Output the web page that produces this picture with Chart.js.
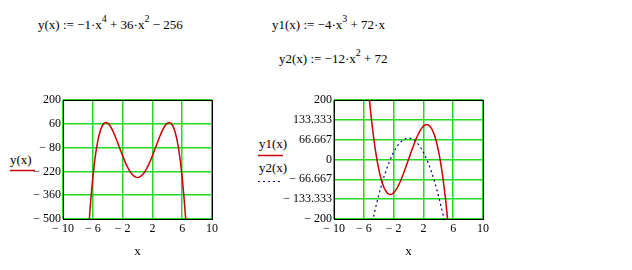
<!DOCTYPE html>
<html><head><meta charset="utf-8">
<script src="https://cdn.jsdelivr.net/npm/chart.js@4/dist/chart.umd.min.js"></script>
<style>
html,body{margin:0;padding:0;background:#fff;width:632px;height:270px;overflow:hidden}
canvas.c{position:absolute;left:0;top:0}
.t{position:absolute;font-family:"Liberation Serif","Times New Roman",serif;font-size:13px;line-height:15px;white-space:pre;color:#000}
.t sup{font-size:10px;vertical-align:7px;line-height:0}
svg{position:absolute}
</style></head><body>
<div class="t" style="left:38px;top:17px">y(x) := −1·x<sup>4</sup> + 36·x<sup>2</sup> − 256</div>
<div class="t" style="left:272px;top:17px">y1(x) := −4·x<sup>3</sup> + 72·x</div>
<div class="t" style="left:279px;top:51px">y2(x) := −12·x<sup>2</sup> + 72</div>
<div class="t" style="left:10px;top:152px">y(x)</div>
<div class="t" style="left:259px;top:136px">y1(x)</div>
<div class="t" style="left:259px;top:160px">y2(x)</div>
<svg style="left:0;top:0" width="632" height="270">
  <line x1="10" y1="170.5" x2="35" y2="170.5" stroke="#cc0000" stroke-width="1.5"/>
  <line x1="258" y1="155.5" x2="283" y2="155.5" stroke="#cc0000" stroke-width="1.5"/>
  <line x1="258" y1="181.5" x2="283" y2="181.5" stroke="#000080" stroke-width="1.2" stroke-dasharray="2,3"/>
</svg>
<canvas id="cL" class="c" width="632" height="270"></canvas>
<canvas id="cR" class="c" width="632" height="270"></canvas>
<script>
// ---- data ----
const xTicks = [-10, -6, -2, 2, 6, 10];
const xTickLabels = ['− 10', '− 6', '− 2', '2', '6', '10'];
const yTicksL = [-500, -360, -220, -80, 60, 200];
const yTickLabelsL = ['− 500', '− 360', '− 220', '− 80', '60', '200'];
const yTicksR = [-200, -133.333, -66.667, 0, 66.667, 133.333, 200];
const yTickLabelsR = ['− 200', '− 133.333', '− 66.667', '0', '66.667', '133.333', '200'];

const xsL = [-6.75,-6.5,-6.25,-6,-5.75,-5.5,-5.25,-5,-4.75,-4.5,-4.25,-4,-3.75,-3.5,-3.25,-3,-2.75,-2.5,-2.25,-2,-1.75,-1.5,-1.25,-1,-0.75,-0.5,-0.25,0,
  0.25,0.5,0.75,1,1.25,1.5,1.75,2,2.25,2.5,2.75,3,3.25,3.5,3.75,4,4.25,4.5,4.75,5,5.25,5.5,5.75,6,6.25,6.5,6.75];
const yVals = [-691.7,-520.1,-375.6,-256,-158.9,-82.1,-23.4,19,47.2,62.9,68.0,64,52.5,34.9,12.7,-13,-40.9,-70.1,-99.4,-128,-155.1,-180.1,-202.2,-221,-236.1,-247.1,-253.8,-256,
  -253.8,-247.1,-236.1,-221,-202.2,-180.1,-155.1,-128,-99.4,-70.1,-40.9,-13,12.7,34.9,52.5,64,68.0,62.9,47.2,19,-23.4,-82.1,-158.9,-256,-375.6,-520.1,-691.7];

const xsR = [-5.5,-5.25,-5,-4.75,-4.5,-4.25,-4,-3.75,-3.5,-3.25,-3,-2.75,-2.5,-2.25,-2,-1.75,-1.5,-1.25,-1,-0.75,-0.5,-0.25,0,
  0.25,0.5,0.75,1,1.25,1.5,1.75,2,2.25,2.5,2.75,3,3.25,3.5,3.75,4,4.25,4.5,4.75,5,5.25,5.5];
const y1Vals = [269.5,200.8,140,86.7,40.5,1.1,-32,-59.1,-80.5,-96.7,-108,-114.8,-117.5,-116.4,-112,-104.6,-94.5,-82.2,-68,-52.3,-35.5,-17.9,0,
  17.9,35.5,52.3,68,82.2,94.5,104.6,112,116.4,117.5,114.8,108,96.7,80.5,59.1,32,-1.1,-40.5,-86.7,-140,-200.8,-269.5];
const y2Vals = [-291,-258.8,-228,-198.8,-171,-144.8,-120,-96.8,-75,-54.8,-36,-18.8,-3,11.3,24,35.3,45,53.3,60,65.3,69,71.3,72,
  71.3,69,65.3,60,53.3,45,35.3,24,11.3,-3,-18.8,-36,-54.8,-75,-96.8,-120,-144.8,-171,-198.8,-228,-258.8,-291];

// ---- styles ----
const GREEN = '#22d822';
const RED = '#cc0000';
const NAVY = '#000080';
const tickFont = {family: '"Liberation Serif", "Times New Roman", serif', size: 12};

function pts(xs, ys) { return xs.map((x, i) => ({x: x, y: ys[i]})); }

// draws the black frame around the plot area
const framePlugin = {
  id: 'frame',
  beforeDatasetsDraw(chart) {
    const a = chart.chartArea, ctx = chart.ctx;
    ctx.save();
    ctx.strokeStyle = '#000';
    ctx.lineWidth = 1;
    ctx.strokeRect(Math.round(a.left) + 0.5, Math.round(a.top) + 0.5,
                   Math.round(a.right - a.left), Math.round(a.bottom - a.top));
    ctx.restore();
  }
};

function makeChart(id, pad, yWidth, yTicks, yLabels, datasets) {
  const n = yTicks.length;
  return new Chart(document.getElementById(id), {
    type: 'line',
    data: {datasets: datasets},
    plugins: [framePlugin],
    options: {
      responsive: false, animation: false, events: [],
      layout: {padding: pad},
      plugins: {legend: {display: false}, tooltip: {enabled: false}},
      elements: {point: {radius: 0}, line: {tension: 0}},
      scales: {
        x: {
          type: 'linear', min: -10, max: 10,
          afterBuildTicks: s => { s.ticks = xTicks.map(v => ({value: v})); },
          afterFit: s => { s.height = 40; },
          ticks: {autoSkip: false, maxRotation: 0, padding: 3, color: '#000', font: tickFont,
                  callback: (v, i) => xTickLabels[i]},
          grid: {drawTicks: false, lineWidth: 1.5, color: GREEN},
          border: {display: false},
          title: {display: true, text: 'x', color: '#000', padding: 0,
                  font: {family: '"Liberation Serif", "Times New Roman", serif', size: 13}}
        },
        y: {
          type: 'linear', min: yTicks[0], max: yTicks[n - 1],
          afterBuildTicks: s => { s.ticks = yTicks.map(v => ({value: v})); },
          afterFit: s => { s.width = yWidth; },
          ticks: {autoSkip: false, padding: 2, color: '#000', font: tickFont,
                  callback: (v, i) => yLabels[i]},
          grid: {drawTicks: false, lineWidth: 1.5, color: GREEN},
          border: {display: false}
        }
      }
    }
  });
}

makeChart('cL', {left: 0, top: 100, right: 420, bottom: 11}, 63, yTicksL, yTickLabelsL, [
  {data: pts(xsL, yVals), borderColor: RED, borderWidth: 1.5, clip: 0, fill: false}
]);
makeChart('cR', {left: 264, top: 100, right: 149, bottom: 11}, 70, yTicksR, yTickLabelsR, [
  {data: pts(xsR, y1Vals), borderColor: RED, borderWidth: 1.5, clip: 0, fill: false},
  {data: pts(xsR, y2Vals), borderColor: NAVY, borderWidth: 1.2, borderDash: [2, 3], clip: 0, fill: false}
]);
</script>
</body></html>
